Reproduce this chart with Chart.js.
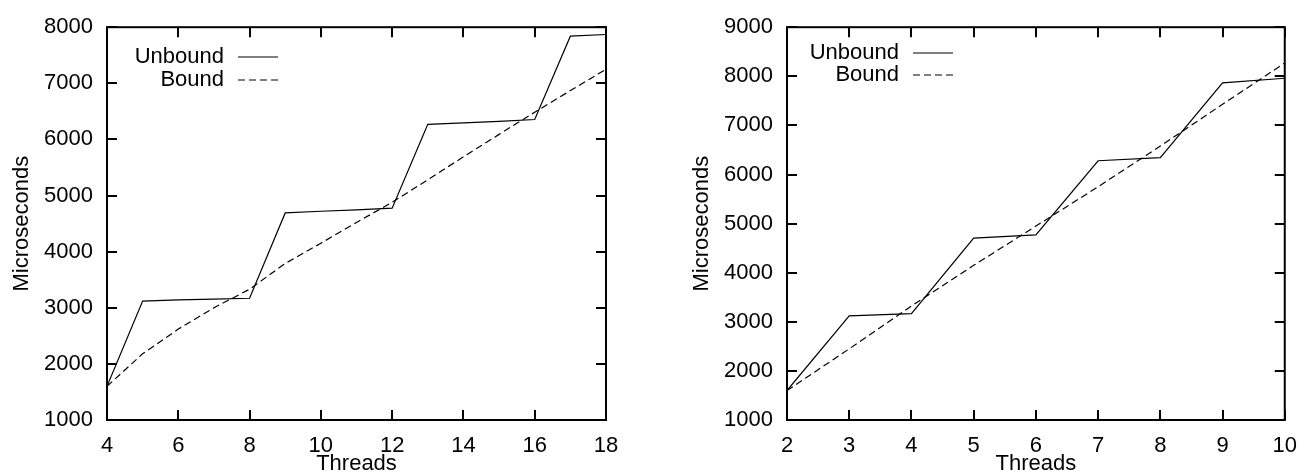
<!DOCTYPE html>
<html>
<head>
<meta charset="utf-8">
<script src="https://cdn.jsdelivr.net/npm/chart.js@4.4.1/dist/chart.umd.min.js"></script>
<style>
  html, body { margin: 0; padding: 0; background: #fff; }
  #wrap { position: relative; width: 1310px; height: 473px; }
  canvas { position: absolute; top: 0; }
</style>
</head>
<body>
<div id="wrap">
  <canvas id="left" width="655" height="473" style="left:0"></canvas>
  <canvas id="right" width="655" height="473" style="left:655px"></canvas>
</div>
<script>
// left panel
const threadsA = [4, 5, 6, 7, 8, 9, 10, 11, 12, 13, 14, 15, 16, 17, 18];
const unboundA = [1600, 3120, 3140, 3155, 3170, 4690, 4720, 4745, 4775, 6270, 6295, 6320, 6355, 7840, 7870];
const boundA   = [1600, 2180, 2620, 3000, 3330, 3790, 4150, 4520, 4880, 5280, 5690, 6090, 6485, 6870, 7250];

// right panel
const threadsB = [2, 3, 4, 5, 6, 7, 8, 9, 10];
const unboundB = [1600, 3120, 3165, 4705, 4770, 6280, 6345, 7865, 7960];
const boundB   = [1600, 2450, 3320, 4150, 4950, 5750, 6580, 7430, 8270];

const FONT = '"Liberation Sans", Arial, Helvetica, sans-serif';

// frame with inward ticks on all four sides + gnuplot style key
const framePlugin = {
  id: 'frame',
  afterDatasetsDraw(chart, args, opts) {
    const { ctx, chartArea: a, scales: { x, y } } = chart;
    ctx.save();
    ctx.strokeStyle = '#000';
    ctx.lineWidth = 2;
    ctx.setLineDash([]);
    ctx.beginPath();
    x.ticks.forEach(t => {
      const px = Math.round(x.getPixelForValue(t.value));
      ctx.moveTo(px, a.bottom); ctx.lineTo(px, a.bottom - 10);
      ctx.moveTo(px, a.top); ctx.lineTo(px, a.top + 10);
    });
    y.ticks.forEach(t => {
      const py = Math.round(y.getPixelForValue(t.value));
      ctx.moveTo(a.left, py); ctx.lineTo(a.left + 10, py);
      ctx.moveTo(a.right, py); ctx.lineTo(a.right - 10, py);
    });
    ctx.stroke();
    ctx.strokeRect(a.left, a.top, a.right - a.left, a.bottom - a.top);

    // key
    ctx.font = '22px ' + FONT;
    ctx.fillStyle = '#000';
    ctx.textAlign = 'right';
    ctx.textBaseline = 'middle';
    ctx.lineWidth = 1.2;
    chart.data.datasets.forEach((ds, i) => {
      const ky = opts.ky + i * opts.gap;
      ctx.fillText(ds.label, opts.kx, ky);
      ctx.setLineDash(ds.borderDash || []);
      ctx.beginPath();
      ctx.moveTo(opts.kx + 14, ky);
      ctx.lineTo(opts.kx + 54, ky);
      ctx.stroke();
    });
    ctx.restore();
  }
};

function makeChart(id, threads, unbound, bound, xr, yr, lay) {
  return new Chart(document.getElementById(id), {
    type: 'line',
    data: {
      datasets: [
        {
          label: 'Unbound',
          data: threads.map((t, i) => ({ x: t, y: unbound[i] })),
          borderColor: '#000',
          borderWidth: 1.2,
          pointRadius: 0,
          tension: 0
        },
        {
          label: 'Bound',
          data: threads.map((t, i) => ({ x: t, y: bound[i] })),
          borderColor: '#000',
          borderWidth: 1.2,
          borderDash: [7, 4],
          pointRadius: 0,
          tension: 0
        }
      ]
    },
    options: {
      responsive: false,
      devicePixelRatio: 1,
      animation: false,
      layout: { padding: { top: 17, right: lay.right, bottom: 0, left: 0 } },
      plugins: {
        legend: { display: false },
        tooltip: { enabled: false },
        frame: { kx: lay.kx, ky: lay.ky, gap: lay.gap }
      },
      scales: {
        x: {
          type: 'linear',
          min: xr[0], max: xr[1],
          afterFit: s => { s.height = 53; },
          border: { display: false },
          grid: { display: false, drawTicks: false },
          ticks: {
            stepSize: xr[2], padding: 13, color: '#000',
            font: { family: FONT, size: 22 },
            callback: v => String(v)
          },
          title: {
            display: true, text: 'Threads', color: '#000',
            font: { family: FONT, size: 22, lineHeight: 1 },
            padding: { top: 0, bottom: -2 }
          }
        },
        y: {
          type: 'linear',
          min: yr[0], max: yr[1],
          afterFit: s => { s.width = lay.yw; },
          border: { display: false },
          grid: { display: false, drawTicks: false },
          ticks: {
            stepSize: 1000, padding: 14, color: '#000',
            font: { family: FONT, size: 22 },
            callback: v => String(v)
          },
          title: {
            display: true, text: 'Microseconds', color: '#000',
            font: { family: FONT, size: 22, lineHeight: 1 },
            padding: { top: lay.tp, bottom: 0 }
          }
        }
      }
    },
    plugins: [framePlugin]
  });
}

makeChart('left', threadsA, unboundA, boundA, [4, 18, 2], [1000, 8000],
  { right: 49, yw: 107, tp: 11, kx: 224, ky: 57, gap: 23 });
makeChart('right', threadsB, unboundB, boundB, [2, 10, 1], [1000, 9000],
  { right: 23, yw: 132, tp: 36, kx: 244, ky: 53, gap: 22 });
</script>
</body>
</html>
